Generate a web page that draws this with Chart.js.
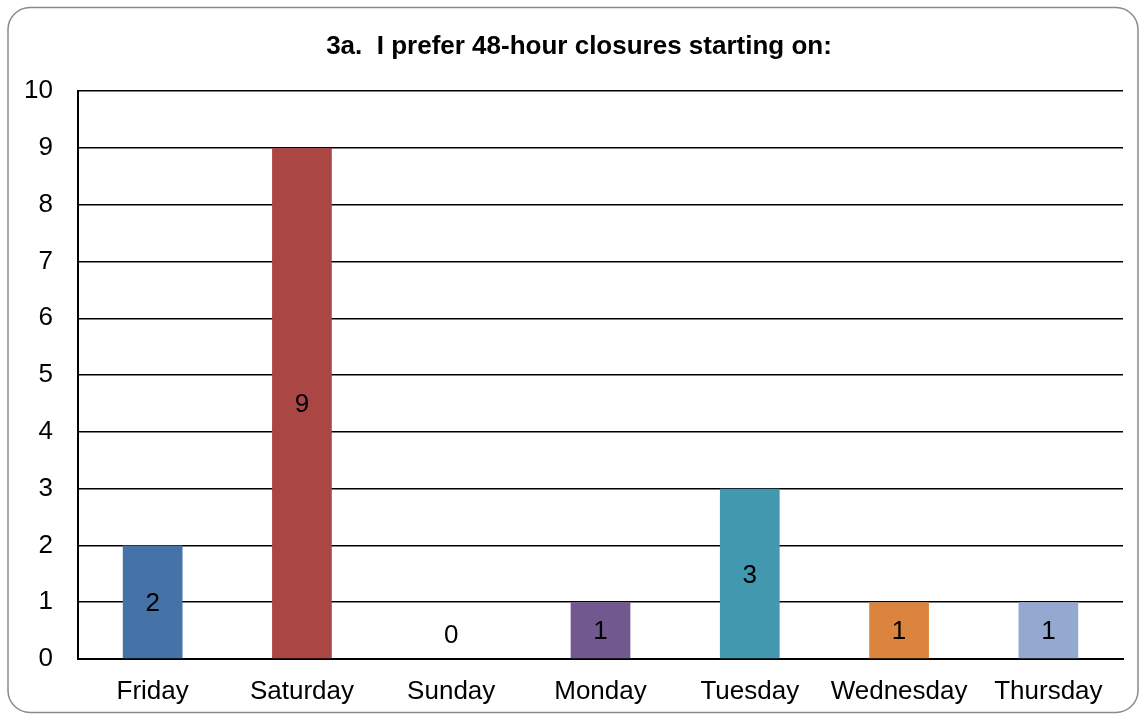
<!DOCTYPE html>
<html>
<head>
<meta charset="utf-8">
<script src="https://cdn.jsdelivr.net/npm/chart.js@4"></script>
<style>
  html, body { margin: 0; padding: 0; background: #fff; }
  #wrap { width: 1140px; height: 715px; position: relative; }
</style>
</head>
<body>
<div id="wrap"><canvas id="barChart"></canvas></div>
<script>
const categories = ["Friday", "Saturday", "Sunday", "Monday", "Tuesday", "Wednesday", "Thursday"];
const counts = [2, 9, 0, 1, 3, 1, 1];
const barColors = ["#4572A7", "#AA4643", "#89A54E", "#71588F", "#4198AF", "#DB843D", "#93A9CF"];
const yTicks = [0, 1, 2, 3, 4, 5, 6, 7, 8, 9, 10];

const FONT = "'Liberation Sans', Arial, sans-serif";

// rounded frame around the whole chart
const framePlugin = {
  id: "frame",
  beforeDraw(chart) {
    const ctx = chart.ctx;
    ctx.save();
    ctx.fillStyle = "#fff";
    ctx.fillRect(0, 0, chart.width, chart.height);
    ctx.strokeStyle = "#8a8a8a";
    ctx.lineWidth = 1.5;
    ctx.beginPath();
    ctx.roundRect(8, 7.5, chart.width - 10, chart.height - 10, 22);
    ctx.stroke();
    ctx.restore();
  },
  // the title in the original is centred a bit right of the canvas centre
  afterLayout(chart) {
    const t = chart.titleBlock;
    if (t) {
      t.left = 35;
      t.width = t.right - t.left;
    }
  }
};

// value labels in the middle of each bar
const valueLabels = {
  id: "valueLabels",
  afterDatasetsDraw(chart) {
    const ctx = chart.ctx;
    const meta = chart.getDatasetMeta(0);
    ctx.save();
    ctx.font = "26px " + FONT;
    ctx.fillStyle = "#000";
    ctx.textAlign = "center";
    ctx.textBaseline = "middle";
    meta.data.forEach((bar, i) => {
      const y = Math.min((bar.y + bar.base) / 2 + 2, bar.base - 23);
      ctx.fillText(String(counts[i]), bar.x, y);
    });
    ctx.restore();
  }
};

document.addEventListener("DOMContentLoaded", () => {
  const ctx = document.getElementById("barChart").getContext("2d");
  new Chart(ctx, {
    type: "bar",
    data: {
      labels: categories,
      datasets: [{
        data: counts,
        backgroundColor: barColors,
        barPercentage: 0.40,
        categoryPercentage: 1.0
      }]
    },
    options: {
      responsive: true,
      maintainAspectRatio: false,
      animation: false,
      layout: { padding: { left: 0, right: 17, top: 10, bottom: 0 } },
      plugins: {
        legend: { display: false },
        tooltip: { enabled: false },
        title: {
          display: true,
          text: "3a.  I prefer 48-hour closures starting on:",
          color: "#000",
          font: { family: FONT, size: 26, weight: "bold" },
          padding: { top: 21, bottom: 29 }
        }
      },
      scales: {
        x: {
          afterFit(scale) { scale.height = 56; },
          grid: { display: false, drawTicks: false },
          border: { display: true, color: "#000", width: 2 },
          ticks: {
            color: "#000",
            padding: 17,
            maxRotation: 0,
            font: { family: FONT, size: 26 }
          }
        },
        y: {
          min: 0,
          max: 10,
          afterBuildTicks(axis) { axis.ticks = yTicks.map(v => ({ value: v })); },
          afterFit(scale) { scale.width = 78; },
          grid: { color: "#000", lineWidth: 1.5, drawTicks: false },
          border: { display: true, color: "#000", width: 2 },
          ticks: {
            color: "#000",
            padding: 25,
            font: { family: FONT, size: 26 }
          }
        }
      }
    },
    plugins: [framePlugin, valueLabels]
  });
});
</script>
</body>
</html>
